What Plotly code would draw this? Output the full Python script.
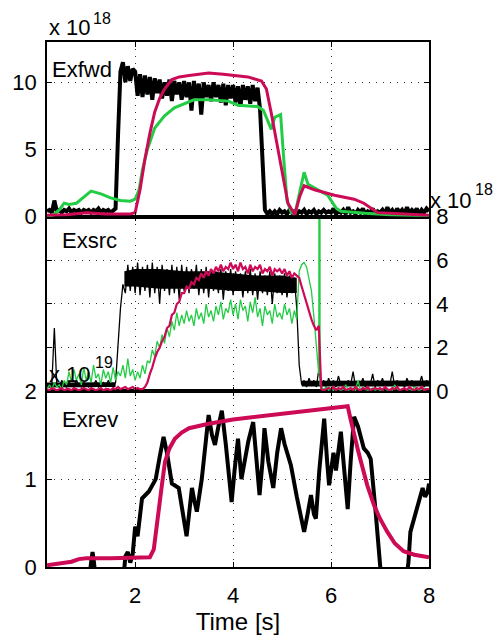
import plotly.graph_objects as go

# ---------------- data (values in units of the panel exponent) ----------------
# common sample times for the noisy traces [s]
T = [round(0.2 + 0.05 * i, 2) for i in range(157)]

# Exfwd (x 1e18) -- black, noisy
fwd_black = [
    0.4, 0.5, 0.3, 1.2, 0.4, 0.5, 0.3, 0.5, 0.4, 0.6, 0.3, 0.5, 0.4, 0.5, 0.3, 0.5,
    0.4, 0.5, 0.3, 0.5, 0.4, 0.6, 0.3, 0.5, 0.4, 0.5, 0.3, 0.5, 0.6, 6.0, 10.8, 11.5, 10.0, 11.2, 10.1, 11.0,
    10.8, 9.0, 10.6, 8.9, 10.5, 9.1, 10.4, 8.7, 10.3, 9.2, 10.2, 8.8, 10.0, 9.0, 10.2, 8.6, 10.1, 9.1, 10.0, 8.7,
    10.1, 8.9, 10.0, 7.9, 10.1, 8.8, 9.9, 7.6, 10.0, 8.9, 9.8, 8.6, 10.0, 8.9, 9.8, 8.5, 9.9, 8.3, 9.8, 8.8,
    9.8, 8.5, 9.7, 8.2, 9.8, 8.7, 9.7, 8.4, 9.8, 8.6, 9.6, 8.0, 4.5, 0.5, 0.2, 0.4, 0.2, 0.4, 0.2, 0.5,
    0.3, 0.4, 0.2, 0.5, 0.3, 0.4, 0.2, 0.4, 0.3, 0.5, 0.2, 0.4, 0.3, 0.5, 0.2, 0.4, 0.3, 0.5, 0.3, 0.4,
    0.3, 0.6, 0.2, 0.4, 0.3, 0.5, 0.2, 0.7, 0.3, 0.4, 0.2, 0.5, 0.3, 0.6, 0.2, 0.4, 0.3, 0.6, 0.2, 0.4,
    0.3, 0.5, 0.2, 0.7, 0.3, 0.5, 0.2, 0.6, 0.3, 0.5, 0.2, 0.7, 0.3, 0.5, 0.3, 0.6, 0.2, 0.5, 0.3, 0.6,
    0.4,
]
# Exfwd -- magenta, smooth
fwd_mag_t = [0.2, 0.6, 1.0, 1.4, 1.9, 2.0, 2.1, 2.2, 2.3, 2.4, 2.5, 2.6, 2.75, 2.9, 3.1, 3.5, 3.8, 4.0, 4.3,
             4.58, 4.68, 4.78, 4.88, 4.98, 5.12, 5.26, 5.36, 5.45, 5.66, 6.07, 6.47, 6.67, 6.95, 7.5, 8.0]
fwd_mag = [0.1, 0.15, 0.3, 0.2, 0.2, 0.3, 2.0, 4.3, 6.2, 7.8, 8.8, 9.5, 10.2, 10.4, 10.5, 10.7, 10.6, 10.5, 10.4,
           10.1, 9.5, 7.7, 5.7, 3.7, 1.0, 0.15, 1.5, 2.3, 2.0, 1.6, 1.3, 1.0, 0.3, 0.2, 0.1]
# Exfwd -- green, smooth
fwd_grn_t = [0.2, 0.3, 0.45, 0.55, 0.65, 0.8, 1.0, 1.1, 1.3, 1.5, 1.7, 1.9, 2.0, 2.08, 2.15, 2.25, 2.4, 2.6, 2.8,
             3.0, 3.2, 3.5, 3.9, 4.1, 4.3, 4.5, 4.62, 4.72, 4.78, 4.85, 4.97, 5.03, 5.1, 5.19, 5.27, 5.37, 5.45,
             5.53, 5.93, 6.1, 6.2, 6.7, 7.2, 8.0]
fwd_grn = [0.0, 0.05, 0.5, 1.0, 0.9, 1.0, 1.6, 1.9, 1.7, 1.4, 1.2, 1.15, 1.3, 2.0, 3.5, 5.0, 6.6, 7.5, 8.1,
           8.4, 8.7, 8.7, 8.6, 8.3, 8.25, 8.2, 7.9, 7.0, 6.5, 7.4, 7.6, 4.5, 1.2, 0.3, 0.3, 2.0, 3.3,
           2.4, 1.6, 0.65, 0.4, 0.25, 0.15, 0.05]

# Exsrc (x 1e18) -- all noisy, on the common time base
src_black = [
    0.3, 0.2, 0.4, 2.9, 0.3, 0.2, 0.5, 0.3, 0.2, 0.4, 0.3, 0.2, 0.5, 0.3, 0.2, 0.4,
    0.3, 0.2, 0.4, 0.3, 0.5, 0.2, 0.3, 0.4, 0.2, 0.5, 0.3, 0.2, 0.4, 2.3, 3.8, 4.9, 4.5, 5.8, 4.6, 5.7,
    4.5, 5.9, 4.4, 5.7, 4.6, 5.8, 4.3, 5.9, 4.5, 5.7, 4.0, 5.8, 4.6, 5.6, 4.4, 5.8, 4.5, 5.7, 4.2, 5.8,
    4.6, 5.7, 4.5, 5.6, 4.7, 5.8, 4.4, 5.6, 4.5, 5.7, 4.3, 5.6, 4.6, 5.5, 4.5, 5.6, 4.2, 5.5, 4.6, 5.6,
    4.4, 5.5, 4.6, 5.4, 4.3, 5.5, 4.5, 5.6, 4.4, 5.4, 4.2, 5.5, 4.5, 5.3, 4.4, 5.5, 4.0, 5.4, 4.5, 5.3,
    4.4, 5.4, 4.3, 5.3, 4.5, 5.2, 3.8, 1.2, 0.3, 0.5, 0.2, 0.6, 0.3, 0.5, 0.2, 1.0, 0.3, 0.5, 0.2, 0.6,
    0.3, 0.5, 0.2, 0.7, 0.3, 0.4, 0.2, 0.5, 0.3, 0.9, 0.2, 0.4, 0.3, 0.6, 0.2, 0.4, 0.3, 0.8, 0.2, 0.5,
    0.3, 0.6, 0.2, 0.4, 0.3, 0.9, 0.2, 0.5, 0.3, 0.4, 0.2, 0.6, 0.3, 0.5, 0.2, 0.4, 0.3, 0.7, 0.2, 0.5,
    0.3,
]
# dense core of the black Exsrc trace (lower / upper edge of its solid part), three stretches
src_band_pre_t = [0.2, 1.0, 1.6]
src_band_pre_lo = [0.18, 0.18, 0.2]
src_band_pre_hi = [0.4, 0.42, 0.42]
src_band_main_t = [1.78, 2.0, 2.5, 3.0, 3.5, 4.0, 4.5, 5.0, 5.3]
src_band_main_lo = [4.8, 4.8, 4.7, 4.7, 4.7, 4.6, 4.6, 4.5, 4.5]
src_band_main_hi = [5.5, 5.6, 5.6, 5.5, 5.5, 5.4, 5.3, 5.3, 5.2]
src_band_post_t = [5.4, 6.5, 8.0]
src_band_post_lo = [0.22, 0.22, 0.22]
src_band_post_hi = [0.48, 0.5, 0.5]

src_mag = [
    0.1, 0.05, 0.15, 0.1, 0.05, 0.1, 0.15, 0.05, 0.1, 0.1, 0.05, 0.15, 0.1, 0.05, 0.1, 0.15,
    0.1, 0.05, 0.15, 0.1, 0.05, 0.1, 0.15, 0.05, 0.1, 0.1, 0.05, 0.15, 0.1, 0.2, 0.1, 0.15, 0.2, 0.1, 0.15, 0.2,
    0.1, 0.15, 0.1, 0.1, 0.2, 0.4, 0.8, 1.1, 1.5, 1.8, 2.0, 2.3, 2.5, 2.9, 3.0, 3.5, 3.6, 4.0, 4.1, 4.5,
    4.5, 4.8, 4.7, 5.0, 4.9, 5.2, 5.1, 5.4, 5.2, 5.5, 5.3, 5.6, 5.4, 5.7, 5.5, 5.8, 5.5, 5.7, 5.6, 5.9,
    5.6, 5.8, 5.5, 5.9, 5.6, 5.7, 5.4, 5.8, 5.5, 5.7, 5.6, 5.8, 5.4, 5.6, 5.5, 5.7, 5.3, 5.6, 5.5, 5.6,
    5.4, 5.6, 5.3, 5.5, 5.2, 5.4, 5.3, 5.2, 4.8, 4.4, 4.0, 3.7, 3.3, 3.0, 2.8, 3.0, 0.1, 0.05, 0.1, 0.15,
    0.1, 0.2, 0.05, 0.15, 0.1, 0.2, 0.05, 0.1, 0.15, 0.05, 0.2, 0.1, 0.05, 0.15, 0.1, 0.2, 0.05, 0.1, 0.15, 0.1,
    0.15, 0.05, 0.2, 0.1, 0.05, 0.15, 0.1, 0.2, 0.05, 0.1, 0.15, 0.05, 0.2, 0.1, 0.05, 0.15, 0.1, 0.2, 0.05, 0.1,
    0.1,
]
src_grn = [
    0.1, 0.3, 0.1, 0.4, 0.2, 0.3, 0.1, 0.5, 0.3, 0.9, 0.4, 1.0, 0.5, 0.8, 0.3, 1.1,
    0.5, 0.9, 0.4, 1.2, 0.6, 0.8, 0.3, 1.0, 0.6, 0.9, 0.4, 1.1, 0.5, 0.9, 0.7, 1.2, 0.6, 1.5, 0.7, 1.0,
    0.5, 0.9, 0.6, 1.2, 0.8, 1.4, 1.3, 1.9, 1.6, 2.3, 2.0, 2.6, 2.2, 2.9, 2.5, 3.2, 2.8, 3.6, 3.0, 3.5,
    3.1, 3.7, 3.2, 3.5, 3.0, 3.8, 3.3, 3.6, 3.1, 4.0, 3.4, 3.7, 3.2, 3.9, 3.5, 4.1, 3.3, 3.8, 3.6, 4.2,
    3.5, 4.0, 3.3, 4.2, 3.7, 3.9, 3.2, 4.1, 3.6, 4.3, 3.4, 3.8, 3.0, 3.9, 3.5, 3.7, 3.1, 4.0, 3.4, 3.6,
    3.3, 4.0, 3.5, 3.8, 3.1, 3.7, 3.3, 5.5, 5.8, 5.9, 5.7, 5.2, 4.6, 3.4, 2.0, 0.8, 0.2, 0.1, 0.2, 0.05,
    0.1, 0.05, 0.15, 0.1, 0.05, 0.1, 0.3, 0.05, 0.1, 0.15, 0.05, 0.5, 0.05, 0.2, 0.1, 0.05, 0.1, 0.15, 0.05, 0.1,
    0.05, 0.1, 0.15, 0.05, 0.1, 0.05, 0.3, 0.1, 0.05, 0.1, 0.15, 0.05, 0.1, 0.05, 0.2, 0.1, 0.05, 0.1, 0.15, 0.1,
    0.1,
]
# the very narrow green Exsrc spike (goes far off scale)
src_grn_spike_t = [5.77, 5.775]
src_grn_spike = [60.0, 0.3]

# Exrev (x 1e19)
rev_black_t = [0.2, 1.05, 1.1, 1.13, 1.16, 1.2, 1.75, 1.8, 1.85, 1.9, 1.95, 2.0, 2.05, 2.14, 2.28, 2.42, 2.5, 2.58,
               2.65, 2.75, 2.89, 2.99, 3.05, 3.1, 3.16, 3.21, 3.26, 3.36, 3.5, 3.57, 3.63, 3.7, 3.77, 3.85, 3.92,
               3.97, 4.03, 4.1, 4.17, 4.25, 4.31, 4.41, 4.48, 4.54, 4.6, 4.64, 4.72, 4.82, 4.9, 4.98, 5.05, 5.18,
               5.3, 5.4, 5.45, 5.52, 5.59, 5.65, 5.69, 5.76, 5.86, 5.92, 5.96, 6.05, 6.1, 6.2, 6.28, 6.34, 6.4,
               6.47, 6.55, 6.67, 6.75, 6.81, 6.91, 6.98, 7.05, 7.5, 7.58, 7.62, 7.69, 7.75, 7.8, 7.87, 7.92, 7.97, 8.0]
rev_black = [-0.2, -0.2, 0.05, 0.17, 0.05, -0.2, -0.2, 0.12, 0.17, 0.05, 0.15, 0.46, 0.35, 0.78, 0.86, 1.0, 1.25, 1.48,
             1.3, 0.95, 0.9, 0.55, 0.35, 0.6, 0.9, 0.75, 0.63, 1.0, 1.73, 1.5, 1.39, 1.6, 1.78, 1.4, 1.0,
             0.74, 1.1, 1.46, 1.0, 1.25, 1.43, 1.65, 1.2, 0.82, 1.2, 1.58, 1.2, 0.9, 1.3, 1.58, 1.4, 1.16,
             0.8, 0.55, 0.4, 0.6, 0.82, 0.6, 0.55, 1.1, 1.69, 1.2, 0.93, 1.3, 1.1, 1.54, 1.0, 0.66, 1.2,
             1.71, 1.6, 1.35, 1.3, 1.23, 0.63, 0.05, -0.3, -0.3, 0.05, 0.4, 0.55, 0.65, 0.75, 0.9, 0.8, 0.85, 0.95]
rev_mag_t = [0.2, 0.5, 0.7, 0.85, 1.0, 1.5, 2.0, 2.3, 2.38, 2.43, 2.48, 2.55, 2.61, 2.7, 2.81, 2.95, 3.1, 3.5, 4.0,
             4.5, 5.0, 5.5, 6.0, 6.34, 6.4, 6.47, 6.55, 6.61, 6.74, 6.88, 7.0, 7.15, 7.3, 7.48, 7.7, 8.0]
rev_mag = [0.02, 0.04, 0.06, 0.09, 0.1, 0.1, 0.1, 0.11, 0.2, 0.45, 0.65, 0.95, 1.2, 1.35, 1.46, 1.53, 1.58, 1.63, 1.68,
           1.71, 1.74, 1.77, 1.8, 1.83, 1.68, 1.5, 1.33, 1.2, 0.93, 0.7, 0.55, 0.4, 0.27, 0.18, 0.14, 0.11]

assert len(fwd_black) == len(T) == len(src_black) == len(src_mag) == len(src_grn)
assert len(fwd_mag) == len(fwd_mag_t) and len(fwd_grn) == len(fwd_grn_t)
assert len(rev_black) == len(rev_black_t) and len(rev_mag) == len(rev_mag_t)

# merge the narrow spike into the green Exsrc series
_g = sorted(list(zip(T, src_grn)) + list(zip(src_grn_spike_t, src_grn_spike)))
src_grn_t_all = [p[0] for p in _g]
src_grn_all = [p[1] for p in _g]

BLACK = "#000000"
MAG = "#cc0a55"
GRN = "#22cc44"
FONT = "Liberation Sans, Arial, sans-serif"
FS = 22

# ---------------- layout geometry (pixels) ----------------
W, H = 496, 639
L, R, TOPPX, BOTPX = 45, 429, 42, 568


def pxx(x):
    return (x - L) / (R - L)


def pxy(y):
    return (BOTPX - y) / (BOTPX - TOPPX)


fig = go.Figure()

# top panel (Exfwd)
fig.add_trace(go.Scatter(x=T, y=fwd_black, mode="lines", line=dict(color=BLACK, width=4), xaxis="x3", yaxis="y3"))
fig.add_trace(go.Scatter(x=fwd_grn_t, y=fwd_grn, mode="lines", line=dict(color=GRN, width=3), xaxis="x3", yaxis="y3"))
fig.add_trace(go.Scatter(x=fwd_mag_t, y=fwd_mag, mode="lines", line=dict(color=MAG, width=3), xaxis="x3", yaxis="y3"))
# middle panel (Exsrc): solid core of the black noise, then the traces
for bt, blo, bhi in [(src_band_pre_t, src_band_pre_lo, src_band_pre_hi),
                     (src_band_main_t, src_band_main_lo, src_band_main_hi),
                     (src_band_post_t, src_band_post_lo, src_band_post_hi)]:
    fig.add_trace(go.Scatter(x=bt, y=blo, mode="lines", line=dict(width=0, color=BLACK),
                             xaxis="x2", yaxis="y2"))
    fig.add_trace(go.Scatter(x=bt, y=bhi, mode="lines", line=dict(width=0, color=BLACK),
                             fill="tonexty", fillcolor=BLACK, xaxis="x2", yaxis="y2"))
fig.add_trace(go.Scatter(x=T, y=src_black, mode="lines", line=dict(color=BLACK, width=1.3), xaxis="x2", yaxis="y2"))
fig.add_trace(go.Scatter(x=src_grn_t_all, y=src_grn_all, mode="lines", line=dict(color=GRN, width=1.3),
                         xaxis="x2", yaxis="y2"))
fig.add_trace(go.Scatter(x=T, y=src_mag, mode="lines", line=dict(color=MAG, width=2.2), xaxis="x2", yaxis="y2"))
# bottom panel (Exrev)
fig.add_trace(go.Scatter(x=rev_black_t, y=rev_black, mode="lines", line=dict(color=BLACK, width=4), xaxis="x", yaxis="y"))
fig.add_trace(go.Scatter(x=rev_mag_t, y=rev_mag, mode="lines", line=dict(color=MAG, width=4), xaxis="x", yaxis="y"))

d_bot = [0, pxy(392)]
d_mid = [pxy(392), pxy(217)]
d_top = [pxy(217), 1]

common_ax = dict(
    ticks="inside", ticklen=5, tickwidth=1, tickcolor="black",
    showline=True, linecolor="black", linewidth=1.5, mirror="ticks",
    showgrid=True, gridcolor="#333333", gridwidth=1, griddash="1px,6px",
    zeroline=False, tickfont=dict(family=FONT, size=FS, color="black"),
)

fig.update_layout(
    width=W, height=H,
    margin=dict(l=L, r=W - R, t=TOPPX, b=H - BOTPX),
    paper_bgcolor="white", plot_bgcolor="white",
    showlegend=False,
    font=dict(family=FONT, size=FS, color="black"),
    xaxis=dict(common_ax, range=[0.2, 8], tick0=0, dtick=2, anchor="y", ticklabelstandoff=8,
               title=dict(text="Time [s]", standoff=2, font=dict(family=FONT, size=24))),
    xaxis2=dict(common_ax, range=[0.2, 8], tick0=0, dtick=2, anchor="y2", matches="x", showticklabels=False),
    xaxis3=dict(common_ax, range=[0.2, 8], tick0=0, dtick=2, anchor="y3", matches="x", showticklabels=False),
    yaxis=dict(common_ax, domain=d_bot, range=[0, 2], tickvals=[0, 1, 2], anchor="x", ticklabelstandoff=4),
    yaxis2=dict(common_ax, domain=d_mid, range=[0, 8], tickvals=[0, 2, 4, 6, 8], anchor="x2", side="right",
                ticklabelstandoff=1),
    yaxis3=dict(common_ax, domain=d_top, range=[0, 13], tickvals=[0, 5, 10], anchor="x3", ticklabelstandoff=4),
)

ann = [
    # exponent labels: "x 10" and the superscript as a separate smaller text
    dict(text="x 10", x=pxx(46), y=pxy(27), size=FS),
    dict(text="18", x=pxx(90), y=pxy(18), size=16),
    dict(text="x 10", x=pxx(429), y=pxy(201), size=FS),
    dict(text="18", x=pxx(474), y=pxy(190), size=16),
    dict(text="x 10", x=pxx(46), y=pxy(375), size=FS),
    dict(text="19", x=pxx(92), y=pxy(363), size=16),
    # panel names
    dict(text="Exfwd", x=pxx(49), y=pxy(70), size=FS),
    dict(text="Exsrc", x=pxx(59), y=pxy(241), size=FS),
    dict(text="Exrev", x=pxx(59), y=pxy(420), size=FS),
]
for a in ann:
    fig.add_annotation(xref="paper", yref="paper", showarrow=False, xanchor="left", yanchor="middle",
                       text=a["text"], x=a["x"], y=a["y"],
                       font=dict(family=FONT, size=a["size"], color="black"), borderpad=0)

fig.write_html("out.html")
